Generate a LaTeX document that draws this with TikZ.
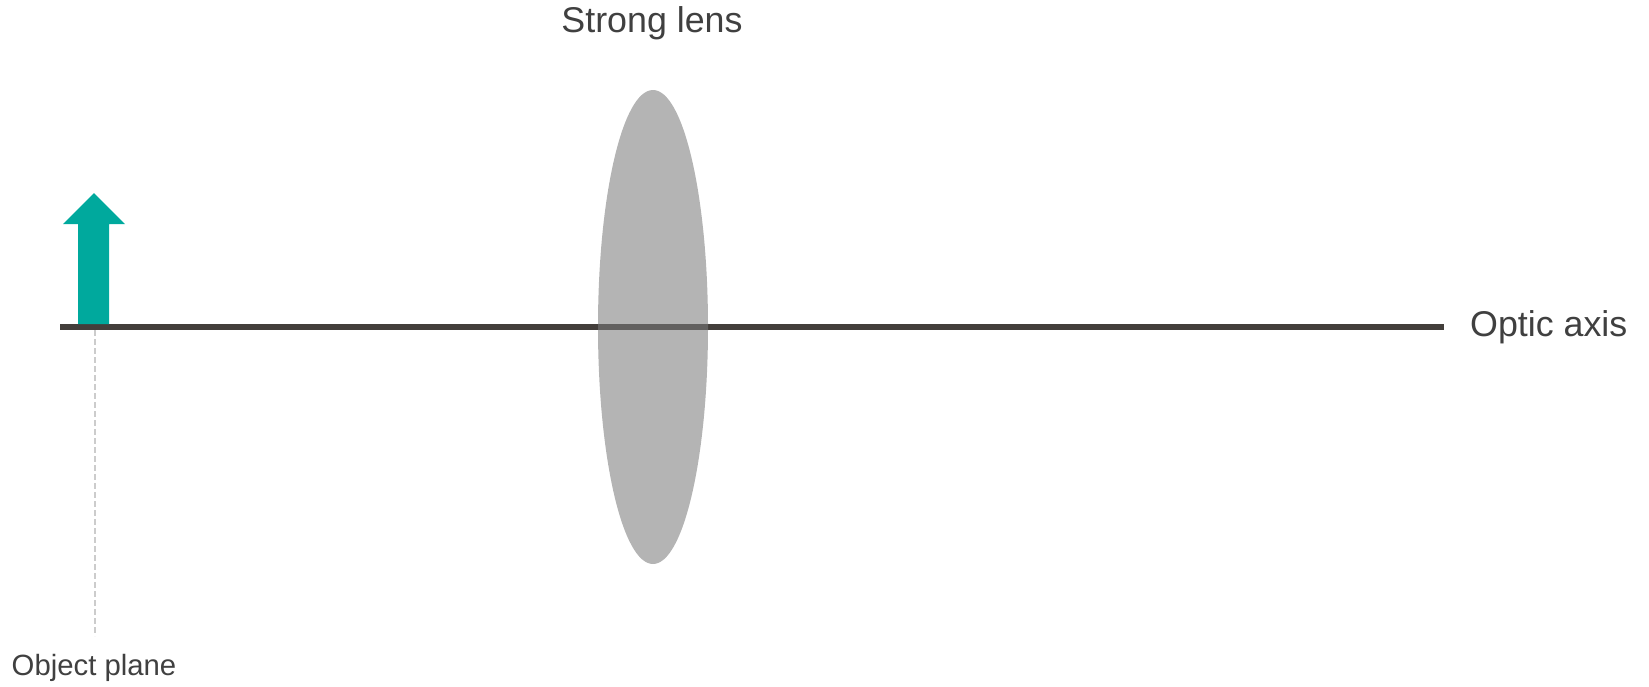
\documentclass[tikz,border=0pt]{standalone}
\usepackage{fontspec}
\setmainfont{Liberation Sans}
\definecolor{axiscol}{HTML}{433E3B}
\definecolor{txtcol}{HTML}{404040}
\definecolor{teal}{HTML}{00A99D}
\definecolor{dashcol}{HTML}{CCCCCC}
\tikzset{
  lbl/.style={text=txtcol, inner sep=0pt},
  axisline/.style={draw=axiscol, line width=6.3pt},
  lensfill/.style={fill={rgb,255:red,123;green,123;blue,123}, fill opacity=0.57},
}
\begin{document}
\begin{tikzpicture}[x=1pt,y=-1pt]
\useasboundingbox (0,0) rectangle (1649,686);
% dashed object plane line
\draw[dashcol, line width=1.3pt, dash pattern=on 6pt off 3pt] (95,330) -- (95,636);
% optic axis
\coordinate (axL) at (60,327);
\coordinate (axR) at (1444,327);
\draw[axisline] (axL) -- (axR);
% object arrow
\fill[teal] (78,324) -- (78,224) -- (63,224) -- (94,193) -- (125,224) -- (109,224) -- (109,324) -- cycle;
% lens
\fill[lensfill] (653,327) ellipse [x radius=55, y radius=237];
% labels
\node[lbl, font=\fontsize{35.8}{40}\selectfont] (lens) at (652,23) {Strong lens};
\node[lbl, font=\fontsize{35.8}{40}\selectfont, anchor=west] (optic) at (1470,327) {Optic axis};
\node[lbl, font=\fontsize{29.3}{34}\selectfont] (obj) at (94,668) {Object plane};
\end{tikzpicture}
\end{document}
